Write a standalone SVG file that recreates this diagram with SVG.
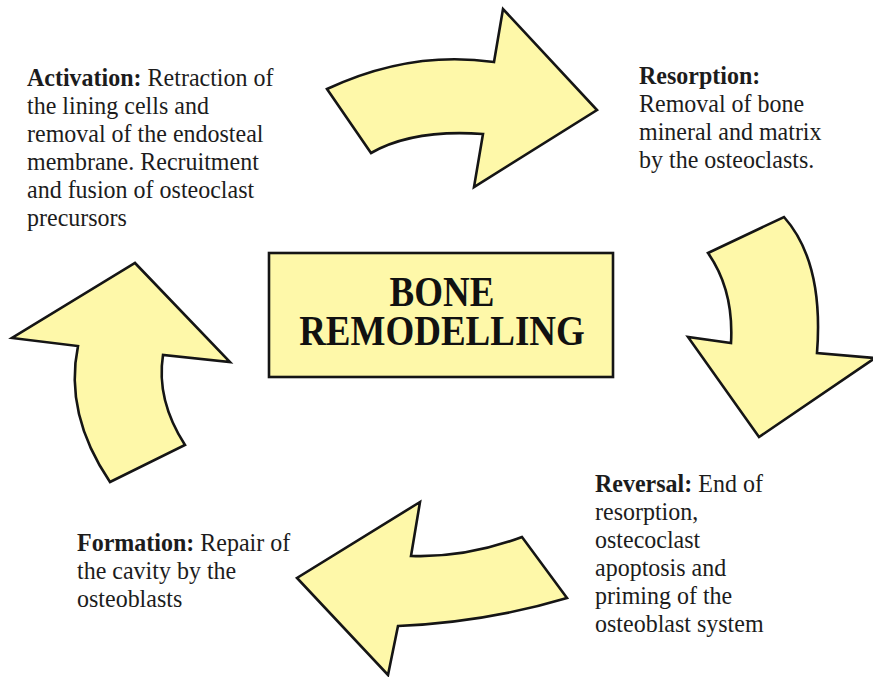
<svg xmlns="http://www.w3.org/2000/svg" width="873" height="677" viewBox="0 0 873 677">
<style>
.shape{fill:#FEF8A9;stroke:#151515;stroke-width:2.6;stroke-linejoin:miter}
.t{font-family:"Liberation Serif","Times New Roman",serif;font-size:24px;fill:#1c1c1c}
.b{font-weight:bold}
.title{font-family:"Liberation Serif","Times New Roman",serif;font-size:37px;font-weight:bold;fill:#111;text-anchor:middle}
</style>
<rect width="873" height="677" fill="#fff"/>
<g id="connectors">
<path id="arrow-top" class="shape" d="M327 89 Q410 50 494 62 L503 9 L597 110 L474 187 L483 134 Q413 129 371 153 Z"/>
<path id="arrow-right" class="shape" d="M708 253 L784 217 Q824 262 817 353 L875 358 L759 437 L688 337 L731 343 Q734 290 708 253 Z"/>
<path id="arrow-bottom" class="shape" d="M420 502 L411 556 Q466 558 522 537 L567 598 Q487 622 398 626 L388 675 L297 578 Z"/>
<path id="arrow-left" class="shape" d="M135 263 L230 362 L163 355 Q156 400 185 445 L110 482 Q64 414 78 346 L12 338 Z"/>
</g>
<g id="center">
<rect class="shape" x="269" y="253" width="344" height="124"/>
<text class="title" x="442" y="306" transform="matrix(1,0,0,1.15,0,-45.9)">BONE</text>
<text class="title" x="442" y="345" transform="matrix(1,0,0,1.15,0,-51.75)">REMODELLING</text>
</g>
<g id="activation">
<text class="t" x="27" y="86" transform="matrix(1,0,0,1.08,0,-6.88)"><tspan class="b">Activation:</tspan> Retraction of</text>
<text class="t" x="27" y="114" transform="matrix(1,0,0,1.08,0,-9.12)">the lining cells and</text>
<text class="t" x="27" y="142" transform="matrix(1,0,0,1.08,0,-11.36)">removal of the endosteal</text>
<text class="t" x="27" y="170" transform="matrix(1,0,0,1.08,0,-13.6)">membrane. Recruitment</text>
<text class="t" x="27" y="198" transform="matrix(1,0,0,1.08,0,-15.84)">and fusion of osteoclast</text>
<text class="t" x="27" y="226" transform="matrix(1,0,0,1.08,0,-18.08)">precursors</text>
</g>
<g id="resorption">
<text class="t b" x="639" y="84" transform="matrix(1,0,0,1.08,0,-6.72)">Resorption:</text>
<text class="t" x="639" y="112" transform="matrix(1,0,0,1.08,0,-8.96)">Removal of bone</text>
<text class="t" x="639" y="140" transform="matrix(1,0,0,1.08,0,-11.2)">mineral and matrix</text>
<text class="t" x="639" y="168" transform="matrix(1,0,0,1.08,0,-13.44)">by the osteoclasts.</text>
</g>
<g id="reversal">
<text class="t" x="595" y="492" transform="matrix(1,0,0,1.08,0,-39.36)"><tspan class="b">Reversal:</tspan> End of</text>
<text class="t" x="595" y="520" transform="matrix(1,0,0,1.08,0,-41.6)">resorption,</text>
<text class="t" x="595" y="548" transform="matrix(1,0,0,1.08,0,-43.84)">ostecoclast</text>
<text class="t" x="595" y="576" transform="matrix(1,0,0,1.08,0,-46.08)">apoptosis and</text>
<text class="t" x="595" y="604" transform="matrix(1,0,0,1.08,0,-48.32)">priming of the</text>
<text class="t" x="595" y="632" transform="matrix(1,0,0,1.08,0,-50.56)">osteoblast system</text>
</g>
<g id="formation">
<text class="t" x="77" y="551" transform="matrix(1,0,0,1.08,0,-44.08)"><tspan class="b">Formation:</tspan> Repair of</text>
<text class="t" x="77" y="579" transform="matrix(1,0,0,1.08,0,-46.32)">the cavity by the</text>
<text class="t" x="77" y="607" transform="matrix(1,0,0,1.08,0,-48.56)">osteoblasts</text>
</g>
</svg>
